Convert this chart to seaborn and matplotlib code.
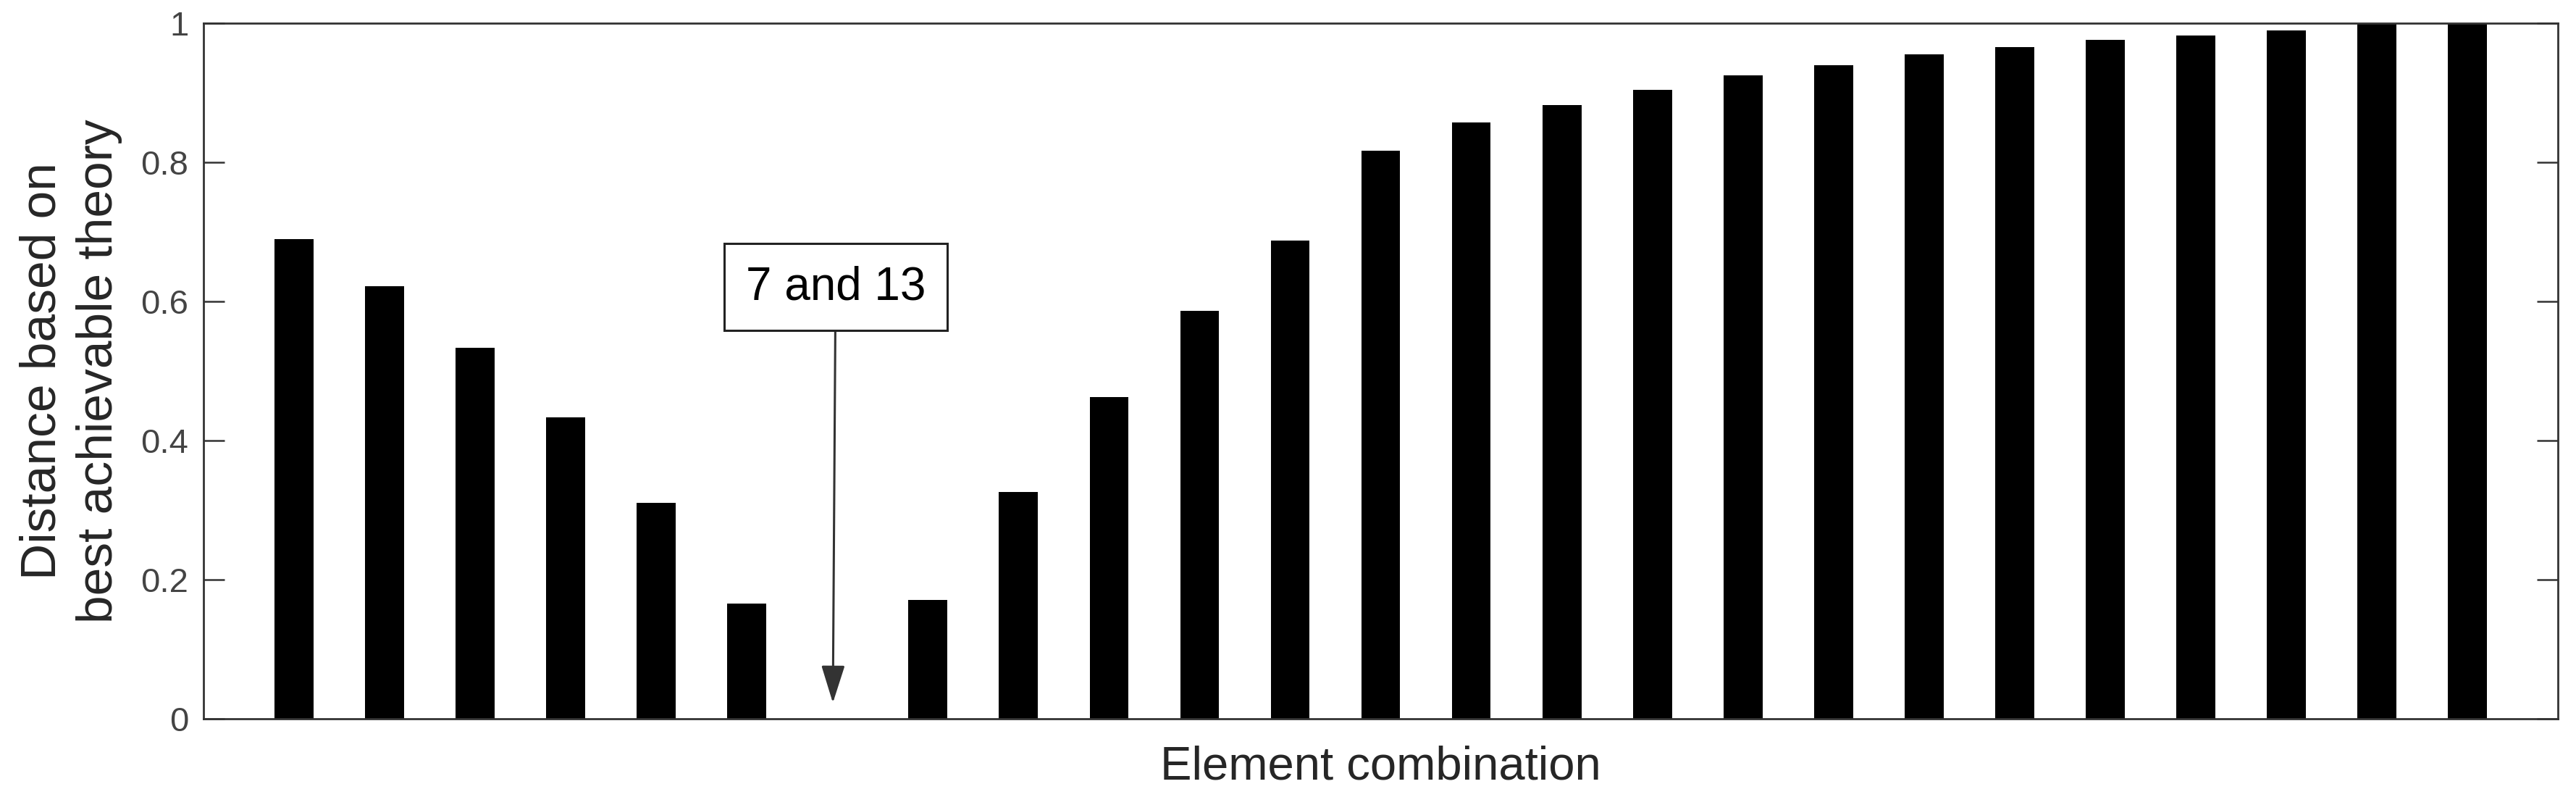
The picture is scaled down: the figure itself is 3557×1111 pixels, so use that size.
import pandas as pd
import numpy as np
import seaborn as sns
import matplotlib.pyplot as plt

# Distance of each element combination from the best achievable theory
combination = list(range(1, 26))
distance = [0.690, 0.622, 0.534, 0.434, 0.311, 0.166, 0.0, 0.171, 0.326, 0.463,
            0.587, 0.688, 0.817, 0.857, 0.882, 0.904, 0.925, 0.940, 0.955, 0.966,
            0.976, 0.983, 0.990, 1.0, 1.0]
yticks = [0, 0.2, 0.4, 0.6, 0.8, 1]
ytick_labels = ['0', '0.2', '0.4', '0.6', '0.8', '1']
note_text = '7 and 13'
note_pos = 7

df = pd.DataFrame({'combination': combination, 'distance': distance})

sns.set_style('white')
plt.rcParams['font.family'] = ['Liberation Sans', 'DejaVu Sans']

fig, ax = plt.subplots(figsize=(35.57, 11.11), dpi=100)
fig.subplots_adjust(left=0.079, right=0.993, bottom=0.107, top=0.971)

sns.barplot(data=df, x='combination', y='distance', native_scale=True,
            width=0.43, color='black', saturation=1, linewidth=0, ax=ax)

ax.set_xlim(0, 26)
ax.set_ylim(0, 1)
ax.set_xticks([])
ax.set_yticks(yticks)
ax.set_yticklabels(ytick_labels)

ax.tick_params(axis='y', direction='in', length=21, width=1.8, color='#333333',
               labelsize=34, labelcolor='#444444', pad=15, right=True, left=True)

for side in ['left', 'right', 'top', 'bottom']:
    ax.spines[side].set_visible(True)
    ax.spines[side].set_color('#333333')
    ax.spines[side].set_linewidth(2)

ax.set_xlabel('Element combination', fontsize=47, color='#262626', labelpad=26)
ax.set_ylabel('Distance based on\nbest achievable theory', fontsize=50,
              color='#262626', labelpad=18, linespacing=1.3)

# Label box with arrow pointing at the missing (zero) bar
ax.annotate(note_text, xy=(note_pos - 0.05, 0.023), xytext=(note_pos - 0.02, 0.621),
            ha='center', va='center', fontsize=46, color='black',
            bbox=dict(boxstyle='square,pad=0.47', fc='white', ec='#222222', lw=2.2),
            arrowprops=dict(arrowstyle='-|>,head_length=0.7,head_width=0.22',
                            color='#333333', lw=2.2, shrinkA=0, shrinkB=0))

plt.savefig('out.png', dpi=100)
